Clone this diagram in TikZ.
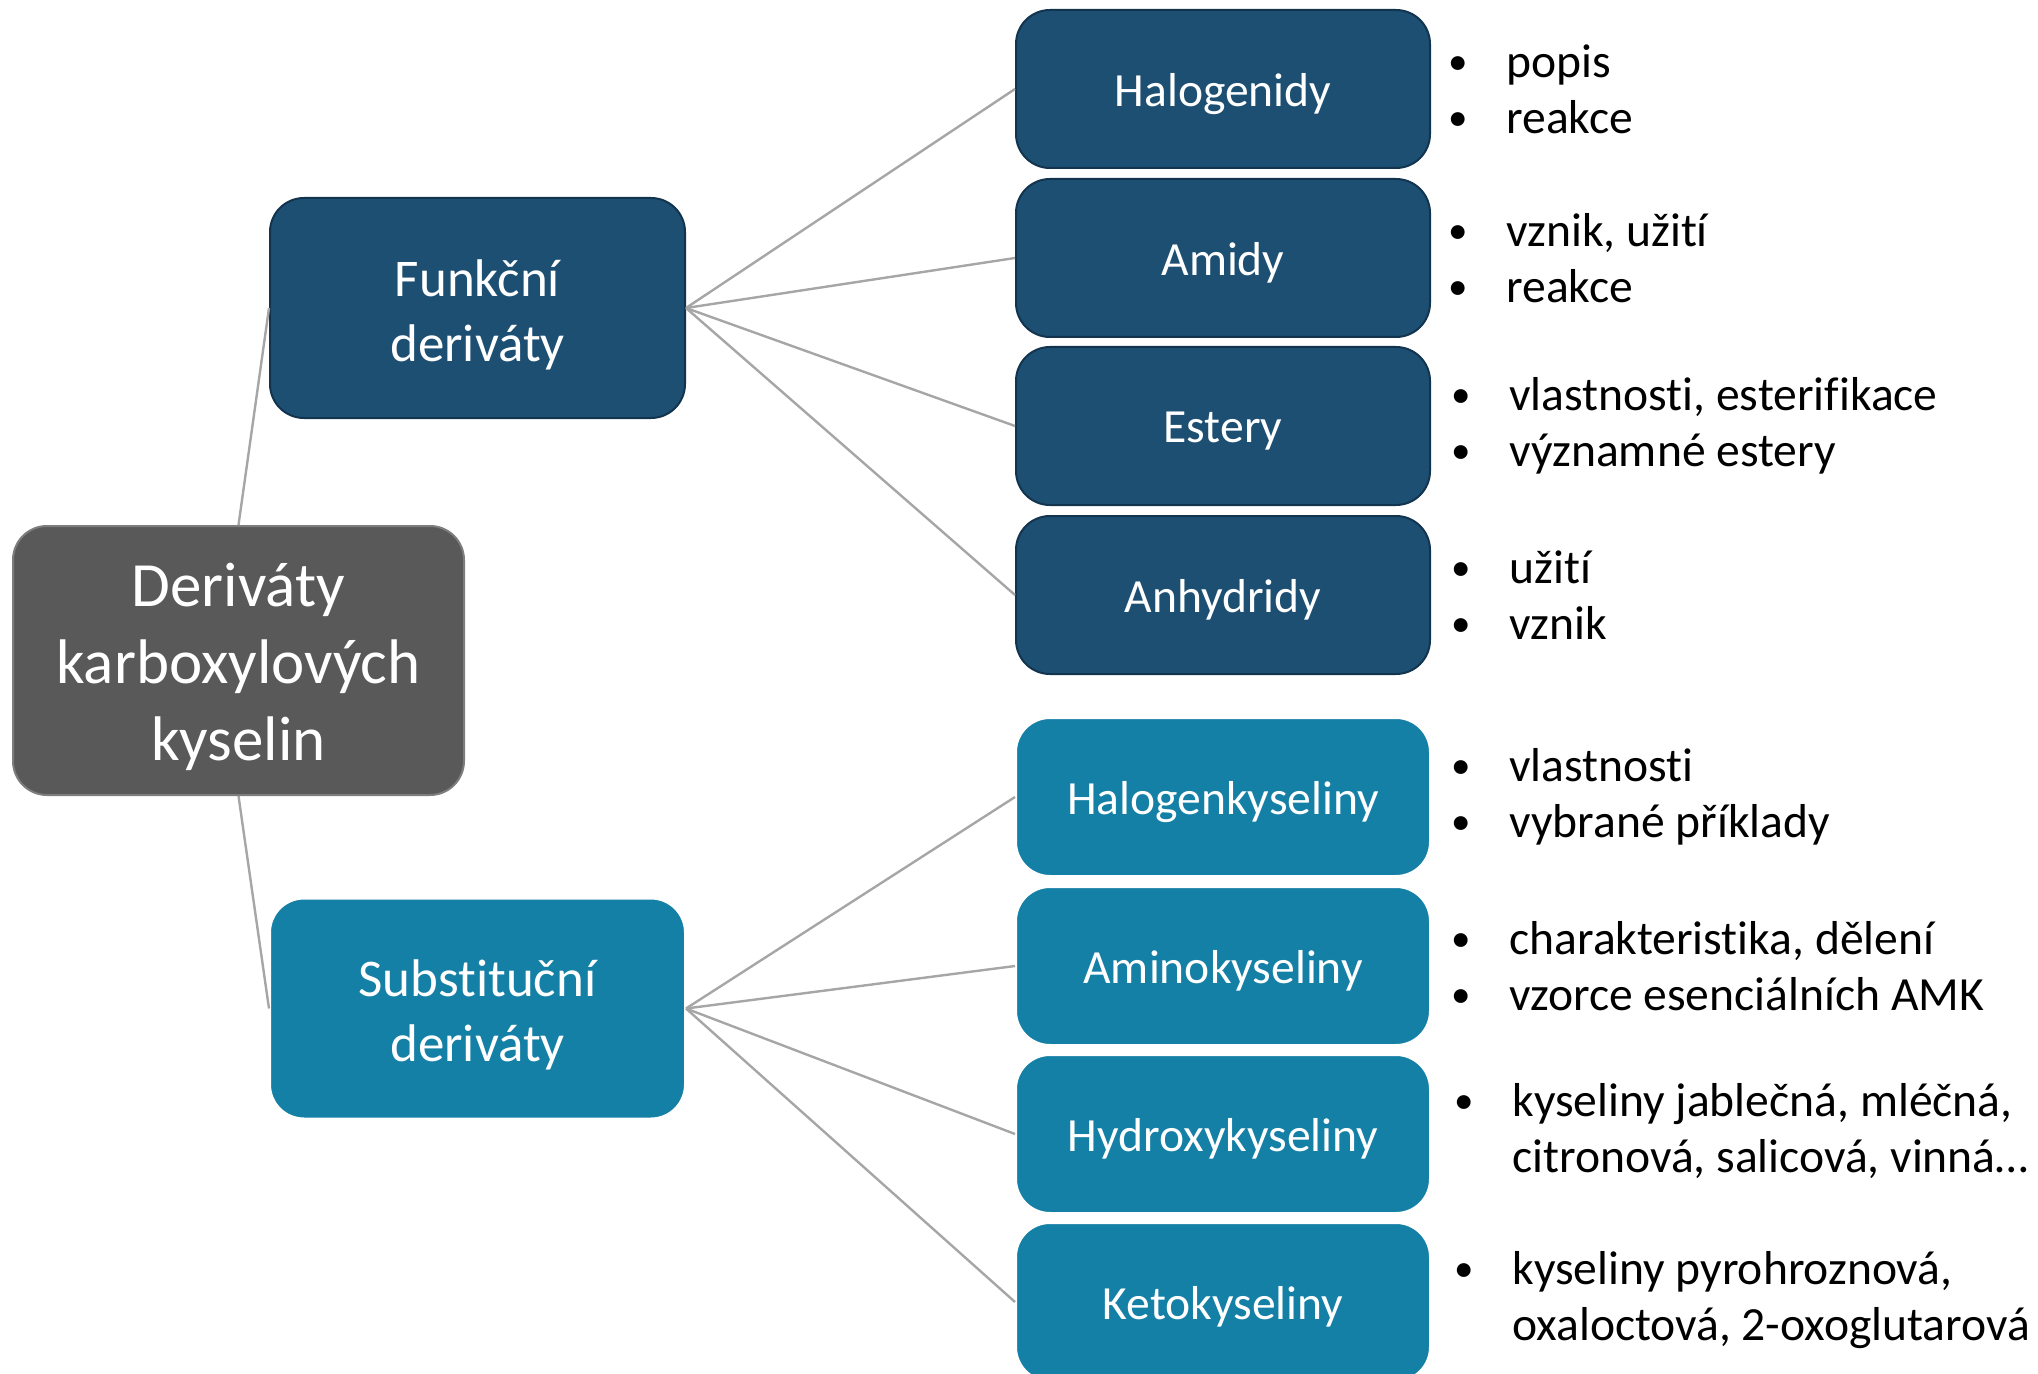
\documentclass[tikz,border=0pt]{standalone}
\usepackage{graphicx}
\usepackage{fontspec}
\setmainfont{Carlito}[Ligatures=NoCommon]
\definecolor{darkblue}{RGB}{29,79,115}
\definecolor{darkedge}{RGB}{18,52,78}
\definecolor{lightblue}{RGB}{21,128,166}
\definecolor{rootgray}{RGB}{89,89,89}
\definecolor{rootedge}{RGB}{125,125,125}
\definecolor{linegray}{RGB}{166,166,166}
\newcommand{\mybul}{\makebox[30pt][l]{\hspace{1pt}\raisebox{0.12ex}{\scalebox{0.82}{•}}}}
\newcommand{\bli}[1]{\mybul#1}
\newcommand{\blc}[1]{\makebox[30pt][l]{}#1}
\begin{document}
\begin{tikzpicture}[x=0.5pt,y=-0.5pt,
 box/.style={rectangle, rounded corners=17pt, inner sep=0pt},
 txt/.style={text=white, align=center, yshift=-3.2pt},
 rootbox/.style={box, fill=rootgray, draw=rootedge, line width=1pt, minimum width=225.5pt, minimum height=134.5pt,
   label={[txt, font=\fontsize{31.5}{38.5}\selectfont]center:#1}},
 midbox/.style={box, minimum width=207.5pt, minimum height=110pt,
   label={[txt, font=\fontsize{26.5}{32.5}\selectfont]center:#1}},
 leafbox/.style={box, minimum width=207pt, minimum height=79pt,
   label={[txt, yshift=0.8pt, font=\fontsize{23.8}{29}\selectfont]center:#1}},
 dark/.style={fill=darkblue, draw=darkedge, line width=1pt},
 light/.style={fill=lightblue, draw=white, line width=1pt},
 conn/.style={draw=linegray, line width=1.2pt},
 blist/.style={anchor=west, align=left, inner sep=0pt, font=\fontsize{23.8}{28}\selectfont}
]
\useasboundingbox (0,0) rectangle (2038,1374);
\clip (0,0) rectangle (2038,1374);

\node[rootbox={Deriváty\\karboxylových\\kyselin}] (root) at (238.5,660.5) {};
\node[midbox={Funkční\\deriváty},dark] (fd) at (477.5,308) {};
\node[midbox={Substituční\\deriváty},light] (sd) at (477.5,1008.5) {};

\node[leafbox={Halogenidy},dark] (l1) at (1223,89) {};
\node[leafbox={Amidy},dark] (l2) at (1223,258) {};
\node[leafbox={Estery},dark] (l3) at (1223,426) {};
\node[leafbox={Anhydridy},dark] (l4) at (1223,595) {};
\node[leafbox={Halogenkyseliny},light] (l5) at (1223,797) {};
\node[leafbox={Aminokyseliny},light] (l6) at (1223,966) {};
\node[leafbox={Hydroxykyseliny},light] (l7) at (1223,1134) {};
\node[leafbox={Ketokyseliny},light] (l8) at (1223,1302) {};

\draw[conn] (root.north) -- (fd.west);
\draw[conn] (root.south) -- (sd.west);
\foreach \n in {l1,l2,l3,l4} \draw[conn] (fd.east) -- (\n.west);
\foreach \n in {l5,l6,l7,l8} \draw[conn] (sd.east) -- (\n.west);

\node[blist] (b1) at (1446,89) {\bli{popis}\\\bli{reakce}};
\node[blist] (b2) at (1446,258) {\bli{vznik, užití}\\\bli{reakce}};
\node[blist] (b3) at (1449,426) {\bli{vlastnosti, esterifikace}\\\bli{významné estery}};
\node[blist] (b4) at (1449,595) {\bli{užití}\\\bli{vznik}};
\node[blist] (b5) at (1449,797) {\bli{vlastnosti}\\\bli{vybrané příklady}};
\node[blist] (b6) at (1449,966) {\bli{charakteristika, dělení}\\\bli{vzorce esenciálních AMK}};
\node[blist] (b7) at (1452,1131) {\bli{kyseliny jablečná, mléčná,}\\\blc{citronová, salicová, vinná…}};
\node[blist] (b8) at (1452,1300) {\bli{kyseliny pyrohroznová,}\\\blc{oxaloctová, 2-oxoglutarová}};
\end{tikzpicture}
\end{document}
